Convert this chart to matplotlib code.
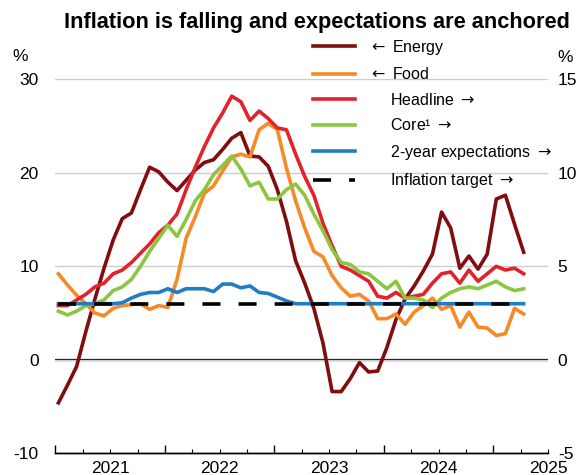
import numpy as np
import matplotlib
matplotlib.use("Agg")
import matplotlib.pyplot as plt

plt.rcParams['font.family'] = ['Liberation Sans', 'DejaVu Sans']
plt.rcParams['axes.unicode_minus'] = False

# monthly data, Jul 2020 onwards
energy = [-4.6, -2.7, -0.7, 3.0, 6.5, 9.8, 12.8, 15.1, 15.7, 18.2,
          20.6, 20.1, 19.0, 18.1, 19.2, 20.3, 21.1, 21.4, 22.5, 23.7,
          24.3, 21.8, 21.7, 20.7, 18.2, 14.8, 10.6, 8.2, 5.5, 1.8,
          -3.4, -3.4, -2.0, -0.3, -1.3, -1.2, 1.3, 4.3, 6.5, 7.9,
          9.5, 11.3, 15.8, 14.1, 9.8, 11.1, 9.7, 11.3, 17.2, 17.6,
          14.5, 11.5]
food = [9.2, 8.0, 6.9, 6.0, 5.0, 4.7, 5.5, 5.8, 5.9, 6.0,
        5.4, 5.8, 5.6, 8.6, 13.0, 15.3, 17.8, 18.6, 20.2, 21.7,
        22.0, 21.7, 24.6, 25.3, 24.6, 20.5, 17.0, 14.1, 11.6, 11.0,
        9.0, 7.7, 6.8, 7.0, 6.3, 4.4, 4.4, 4.9, 3.8, 5.1,
        5.8, 6.6, 5.4, 5.8, 3.5, 5.1, 3.5, 3.4, 2.6, 2.8,
        5.5, 4.9]
headline = [2.9, 2.9, 3.2, 3.5, 3.9, 4.1, 4.6, 4.8, 5.2, 5.7,
            6.2, 6.8, 7.2, 7.8, 9.1, 10.3, 11.4, 12.4, 13.2, 14.1,
            13.8, 12.8, 13.3, 12.9, 12.4, 12.3, 11.0, 9.8, 8.8, 7.3,
            6.1, 5.0, 4.8, 4.5, 4.2, 3.4, 3.3, 3.6, 3.3, 3.4,
            3.5, 4.1, 4.6, 4.7, 4.1, 4.8, 4.2, 4.6, 5.0, 4.8,
            4.9, 4.6]
core = [2.6, 2.4, 2.6, 2.9, 3.0, 3.2, 3.7, 3.9, 4.3, 5.0,
        5.8, 6.5, 7.2, 6.6, 7.5, 8.5, 9.1, 9.9, 10.4, 10.9,
        10.2, 9.3, 9.5, 8.6, 8.6, 9.1, 9.4, 8.8, 7.8, 6.9,
        5.9, 5.2, 5.1, 4.7, 4.6, 4.2, 3.8, 4.2, 3.3, 3.3,
        3.2, 2.8, 3.3, 3.6, 3.8, 3.9, 3.8, 4.0, 4.2, 3.9,
        3.7, 3.8]
expect2y = [3.0, 3.0, 3.0, 3.0, 3.0, 3.0, 3.0, 3.05, 3.3, 3.5,
            3.6, 3.6, 3.8, 3.6, 3.8, 3.8, 3.8, 3.65, 4.05, 4.05,
            3.85, 3.95, 3.6, 3.55, 3.35, 3.15, 3.0, 3.0, 3.0, 3.0,
            3.0, 3.0, 3.0, 3.0, 3.0, 3.0, 3.0, 3.0, 3.0, 3.0,
            3.0, 3.0, 3.0, 3.0, 3.0, 3.0, 3.0, 3.0, 3.0, 3.0,
            3.0, 3.0]
target = [3.0] * 52

years = ['2021', '2022', '2023', '2024', '2025']
year_pos = [6, 18, 30, 42, 54]   # months since Jul 2020

c_energy = '#800d0f'
c_food = '#f58a2b'
c_head = '#e0232c'
c_core = '#8cc63f'
c_blue = '#1f7dc3'

x = np.arange(len(energy)) + 0.33

fig = plt.figure(figsize=(5.85, 4.75), dpi=100)
ax = fig.add_axes([0.0947, 0.0457, 0.8421, 0.7873])
ax2 = ax.twinx()

ax.axhline(0, color='black', lw=1.6, zorder=1)
l1, = ax.plot(x, energy, color=c_energy, lw=2.6, label=r'$\leftarrow$ Energy')
l2, = ax.plot(x, food, color=c_food, lw=2.6, label=r'$\leftarrow$ Food')
l3, = ax2.plot(x, headline, color=c_head, lw=2.6, label=r'     Headline $\rightarrow$')
l4, = ax2.plot(x, core, color=c_core, lw=2.6, label='     Core\u00b9 $\\rightarrow$')
l5, = ax2.plot(x, expect2y, color=c_blue, lw=2.6,
               label=r'     2-year expectations $\rightarrow$')
l6, = ax2.plot(x, target, color='black', lw=2.6, dashes=(5, 5),
               label=r'     Inflation target $\rightarrow$')

ax.set_xlim(0, 54)
ax.set_ylim(-10, 30)
ax2.set_ylim(-5, 15)
ax.set_yticks([-10, 0, 10, 20, 30])
ax2.set_yticks([-5, 0, 5, 10, 15])
ax.grid(axis='y', color='#cccccc', lw=1)

ax.set_xticks(np.arange(0, 49, 12))
ax.set_xticks(np.arange(0, 55, 3), minor=True)
ax.set_xticklabels([])
ax.tick_params(axis='x', which='major', direction='in', length=6, width=1)
ax.tick_params(axis='x', which='minor', direction='in', length=3, width=0.8)
ax.tick_params(axis='y', length=0, labelsize=12.5, pad=12)
ax2.tick_params(axis='y', length=0, labelsize=12.5, pad=7)

for a in (ax, ax2):
    for s in ('top', 'left', 'right'):
        a.spines[s].set_visible(False)
    a.spines['bottom'].set_linewidth(1)

for yr, p in zip(years, year_pos):
    ax.text(p, -0.04, yr, transform=ax.get_xaxis_transform(),
            ha='center', va='center', fontsize=12.5)

fig.text(0.035, 0.882, '%', ha='center', va='center', fontsize=12.5)
fig.text(0.966, 0.88, '%', ha='center', va='center', fontsize=12.5)

fig.text(0.541, 0.952, 'Inflation is falling and expectations are anchored',
         ha='center', va='center', fontsize=15.7, fontweight='bold')

leg = ax2.legend(handles=[l1, l2, l3, l4, l5, l6], loc='upper left',
                 bbox_to_anchor=(0.535, 0.921), bbox_transform=fig.transFigure,
                 frameon=False, fontsize=11.5, handlelength=2.6,
                 handletextpad=0.85, labelspacing=0.6, borderpad=0,
                 borderaxespad=0)

fig.savefig('out.png', dpi=100)
